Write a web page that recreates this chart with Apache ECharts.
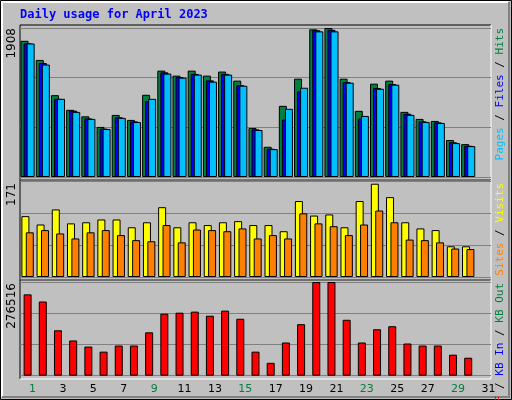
<!DOCTYPE html>
<html>
<head>
<meta charset="utf-8">
<script src="https://cdn.jsdelivr.net/npm/echarts@6/dist/echarts.min.js"></script>
<style>html,body{margin:0;padding:0;background:#c0c0c0}</style>
</head>
<body>
<div id="main" style="width:512px;height:400px"></div>
<script>
const days = Array.from({ length: 31 }, (_, i) => String(i + 1))
const weekend = ['1', '2', '8', '9', '15', '16', '22', '23', '29', '30']

// panel 1: hits / files / pages (day 31 has no data yet)
const hits = [1744, 1499, 1048, 860, 777, 641, 795, 731, 1053, 1362, 1298, 1362, 1298, 1350, 1234, 628, 387, 911, 1259, 1891, 1908, 1259, 847, 1195, 1234, 834, 744, 718, 473, 421, null]
const files = [1712, 1460, 1001, 850, 750, 620, 765, 712, 971, 1340, 1280, 1320, 1237, 1320, 1175, 610, 362, 735, 1096, 1880, 1885, 1215, 748, 1140, 1190, 810, 712, 700, 445, 400, null]
const pages = [1710, 1440, 1001, 834, 744, 615, 757, 705, 1001, 1324, 1272, 1311, 1221, 1311, 1169, 602, 357, 873, 1143, 1865, 1865, 1208, 782, 1130, 1182, 795, 705, 692, 434, 396, null]

// panel 2: visits / sites
const visits = [109, 94, 121, 96, 98, 103, 103, 89, 98, 125, 89, 98, 93, 98, 100, 93, 93, 82, 136, 110, 112, 89, 136, 167, 143, 98, 87, 84, 55, 55, null]
const sites = [80, 84, 78, 69, 80, 84, 75, 66, 64, 93, 62, 85, 84, 82, 87, 69, 75, 69, 114, 96, 91, 75, 94, 119, 98, 67, 66, 62, 51, 50, null]

// panel 3: kB
const kbytes = [240000, 219000, 134000, 104000, 86000, 71000, 89000, 89000, 128000, 183000, 186000, 189000, 177000, 192000, 168000, 71000, 38000, 98000, 152000, 276516, 276516, 165000, 98000, 137000, 146000, 95000, 89000, 89000, 62000, 53000, null]

const maxHits = 1908, maxVisits = 171, maxKB = 276516

var chartDom = document.getElementById('main')
var myChart = echarts.init(chartDom)

function xAxis(i, show) {
    return {
        type: 'category', gridIndex: i, data: days,
        axisLine: { show: false }, axisTick: { show: false },
        axisLabel: {
            show: show, margin: 8, padding: [0, 0, 0, 10],
            fontFamily: 'DejaVu Sans', fontSize: 11,
            color: (v) => weekend.includes(v) ? '#008040' : '#000'
        }
    }
}
function yAxis(i, max) {
    return {
        type: 'value', gridIndex: i, min: 0, max: max, interval: max / 3,
        axisLabel: { show: false }, axisLine: { show: false }, axisTick: { show: false },
        splitLine: { lineStyle: { color: '#808080', width: 1 } }
    }
}
function bar(name, data, color, xi, width, gap) {
    return {
        name: name, type: 'bar', xAxisIndex: xi, yAxisIndex: xi, data: data,
        barWidth: width, barGap: gap, animation: false,
        itemStyle: { color: color, borderColor: '#000', borderWidth: 1 }
    }
}

function vtext(x, y, rich, text) {
    return {
        type: 'text', x: x, y: y, rotation: Math.PI / 2,
        style: { text: text, rich: rich, font: '11px "DejaVu Sans Mono"', align: 'right', verticalAlign: 'middle' }
    }
}
function panel(y1, y2) {
    return [
        { type: 'line', shape: { x1: 20, y1: y1, x2: 491, y2: y1 }, style: { stroke: '#000' } },
        { type: 'line', shape: { x1: 20, y1: y1, x2: 20, y2: y2 }, style: { stroke: '#000' } },
        { type: 'line', shape: { x1: 20, y1: y2, x2: 491, y2: y2 }, style: { stroke: '#fff' } },
        { type: 'line', shape: { x1: 491, y1: y1, x2: 491, y2: y2 }, style: { stroke: '#fff' } }
    ]
}

var option = {
    backgroundColor: '#c0c0c0',
    animation: false,
    grid: [
        { left: 20, right: 21, top: 28, height: 149 },
        { left: 20, right: 21, top: 181.5, height: 95.5 },
        { left: 20, right: 21, top: 282, height: 93.7 }
    ],
    xAxis: [xAxis(0, false), xAxis(1, false), xAxis(2, true)],
    yAxis: [yAxis(0, maxHits), yAxis(1, maxVisits), yAxis(2, maxKB)],
    series: [
        bar('Hits', hits, '#008040', 0, 8, '-62%'),
        bar('Files', files, '#0000ff', 0, 8, '-62%'),
        bar('Pages', pages, '#00c0ff', 0, 8, '-62%'),
        bar('Visits', visits, '#ffff00', 1, 8, '-45%'),
        bar('Sites', sites, '#ff8000', 1, 8, '-45%'),
        bar('KB F', kbytes, '#ff0000', 2, 8, '0%')
    ],
    graphic: [
        { type: 'rect', shape: { x: 0.5, y: 0.5, width: 511, height: 399 }, style: { fill: null, stroke: '#000' } },
        { type: 'polyline', shape: { points: [[2, 397], [2, 2], [509, 2]] }, style: { stroke: '#fff', fill: null, lineWidth: 2 } },
        { type: 'polyline', shape: { points: [[2, 397], [509, 397], [509, 2]] }, style: { stroke: '#808080', fill: null, lineWidth: 2 } },
        ...panel(25, 180), ...panel(180, 280), ...panel(280, 379),
        {
            type: 'text', x: 20, y: 15,
            style: { text: 'Daily usage for April 2023', font: 'bold 12px "DejaVu Sans Mono"', fill: '#0000ff', verticalAlign: 'middle' }
        },
        { type: 'text', x: 12, y: 28, rotation: Math.PI / 2, style: { text: String(maxHits), font: '12px "DejaVu Sans"', fill: '#000', align: 'right', verticalAlign: 'middle' } },
        { type: 'text', x: 12, y: 183, rotation: Math.PI / 2, style: { text: String(maxVisits), font: '12px "DejaVu Sans"', fill: '#000', align: 'right', verticalAlign: 'middle' } },
        { type: 'text', x: 12, y: 283, rotation: Math.PI / 2, style: { text: String(maxKB), font: '12px "DejaVu Sans"', fill: '#000', align: 'right', verticalAlign: 'middle' } },
        vtext(500, 28, { p: { fill: '#00c0ff' }, f: { fill: '#0000ff' }, h: { fill: '#008040' }, s: { fill: '#000' } },
            '{p|Pages}{s| / }{f|Files}{s| / }{h|Hits}'),
        vtext(500, 183, { si: { fill: '#ff8000' }, v: { fill: '#ffff00' }, s: { fill: '#000' } },
            '{si|Sites}{s| / }{v|Visits}'),
        vtext(500, 283, { f: { fill: '#ff0000' }, i: { fill: '#0000ff' }, o: { fill: '#008040' }, s: { fill: '#000' } },
            '{f|KB F}{s| / }{i|KB In}{s| / }{o|KB Out}')
    ]
}
option && myChart.setOption(option)
</script>
</body>
</html>
